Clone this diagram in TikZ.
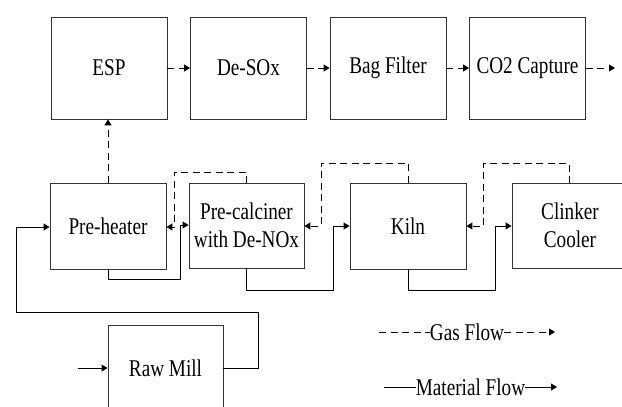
\documentclass[tikz,border=0pt]{standalone}
\usepackage{fontspec}
\setmainfont{Liberation Serif}
\usetikzlibrary{arrows.meta}
\newcommand{\nrw}[1]{\scalebox{0.8}[1]{#1}}
\begin{document}
\begin{tikzpicture}[x=1pt,y=-1pt,
  font=\fontsize{24}{28}\selectfont,
  box/.style={draw=black!80,line width=0.9pt,minimum width=116pt,minimum height=#1,inner sep=0pt,align=center},
  box/.default=102pt,
  flow/.style={line width=0.95pt,-{Triangle[length=6pt,width=7pt]}},
  gasdash/.style={dash pattern=on 7pt off 4.5pt},
  gas/.style={flow,gasdash},
  mat/.style={flow}]
\useasboundingbox (0,0) rectangle (622,407);
% top row
\node[box] (esp) at (109,68) {\nrw{ESP}};
\node[box] (desox) at (248.5,68) {\nrw{De-SOx}};
\node[box] (bag) at (388,68) {\nrw{Bag Filter}};
\node[box] (co2) at (527.5,68) {\nrw{CO2 Capture}};
\coordinate (out) at (615,68);
% middle row
\node[box=86pt] (pre) at (108,226) {\nrw{Pre-heater}};
\node[box=85pt,minimum width=115pt] (cal) at (246.5,225.5) {\nrw{Pre-calciner}\\\nrw{with De-NOx}};
\node[box=86pt] (kiln) at (408,226) {\nrw{Kiln}};
\node[box=85pt] (cool) at (570,225.5) {\nrw{Clinker}\\\nrw{Cooler}};
% raw mill
\node[box=86pt,minimum width=115pt] (mill) at (165.5,368) {\nrw{Raw Mill}};
\coordinate (in) at (78,368);
% gas connectors top
\draw[gas] (esp.east) -- (desox.west);
\draw[gas] (desox.east) -- (bag.west);
\draw[gas] (bag.east) -- (co2.west);
\draw[gas] (co2.east) -- (out);
\draw[gas] (pre.north) -- (pre.north |- esp.south);
% gas loops
\draw[gas] (cal.north) -- (246.5,172) -- (174,172) -- (174,227) -- (pre.east |- 0,227);
\draw[gas] (kiln.north) -- (408,163) -- (321,163) -- (321,226) -- (cal.east |- 0,226);
\draw[gas] (569,183) -- (569,163) -- (483,163) -- (483,226) -- (kiln.east |- 0,226);
% material connectors
\draw[mat] (pre.south) -- (108,279) -- (180,279) -- (180,225) -- (cal.west |- 0,225);
\draw[mat] (cal.south) -- (246.5,290) -- (333,290) -- (333,226) -- (kiln.west |- 0,226);
\draw[mat] (kiln.south) -- (408,290) -- (495,290) -- (495,226) -- (cool.west |- 0,226);
\draw[mat] (mill.east) -- (258,368) -- (258,312) -- (16,312) -- (16,227) -- (pre.west |- 0,227);
\draw[mat] (in) -- (mill.west);
% legend
\node[inner sep=0pt] (gasl) at (467,332) {\nrw{Gas Flow}};
\coordinate (g1) at (379,332);
\coordinate (g2) at (555,332);
\draw[line width=0.95pt,gasdash] (g1) -- (gasl.west);
\draw[gas] (gasl.east) -- (g2);
\node[inner sep=0pt] (matl) at (470.5,387) {\nrw{Material Flow}};
\coordinate (m1) at (384,387);
\coordinate (m2) at (557,387);
\draw[line width=0.95pt] (m1) -- (matl.west);
\draw[mat] (matl.east) -- (m2);
\end{tikzpicture}
\end{document}
